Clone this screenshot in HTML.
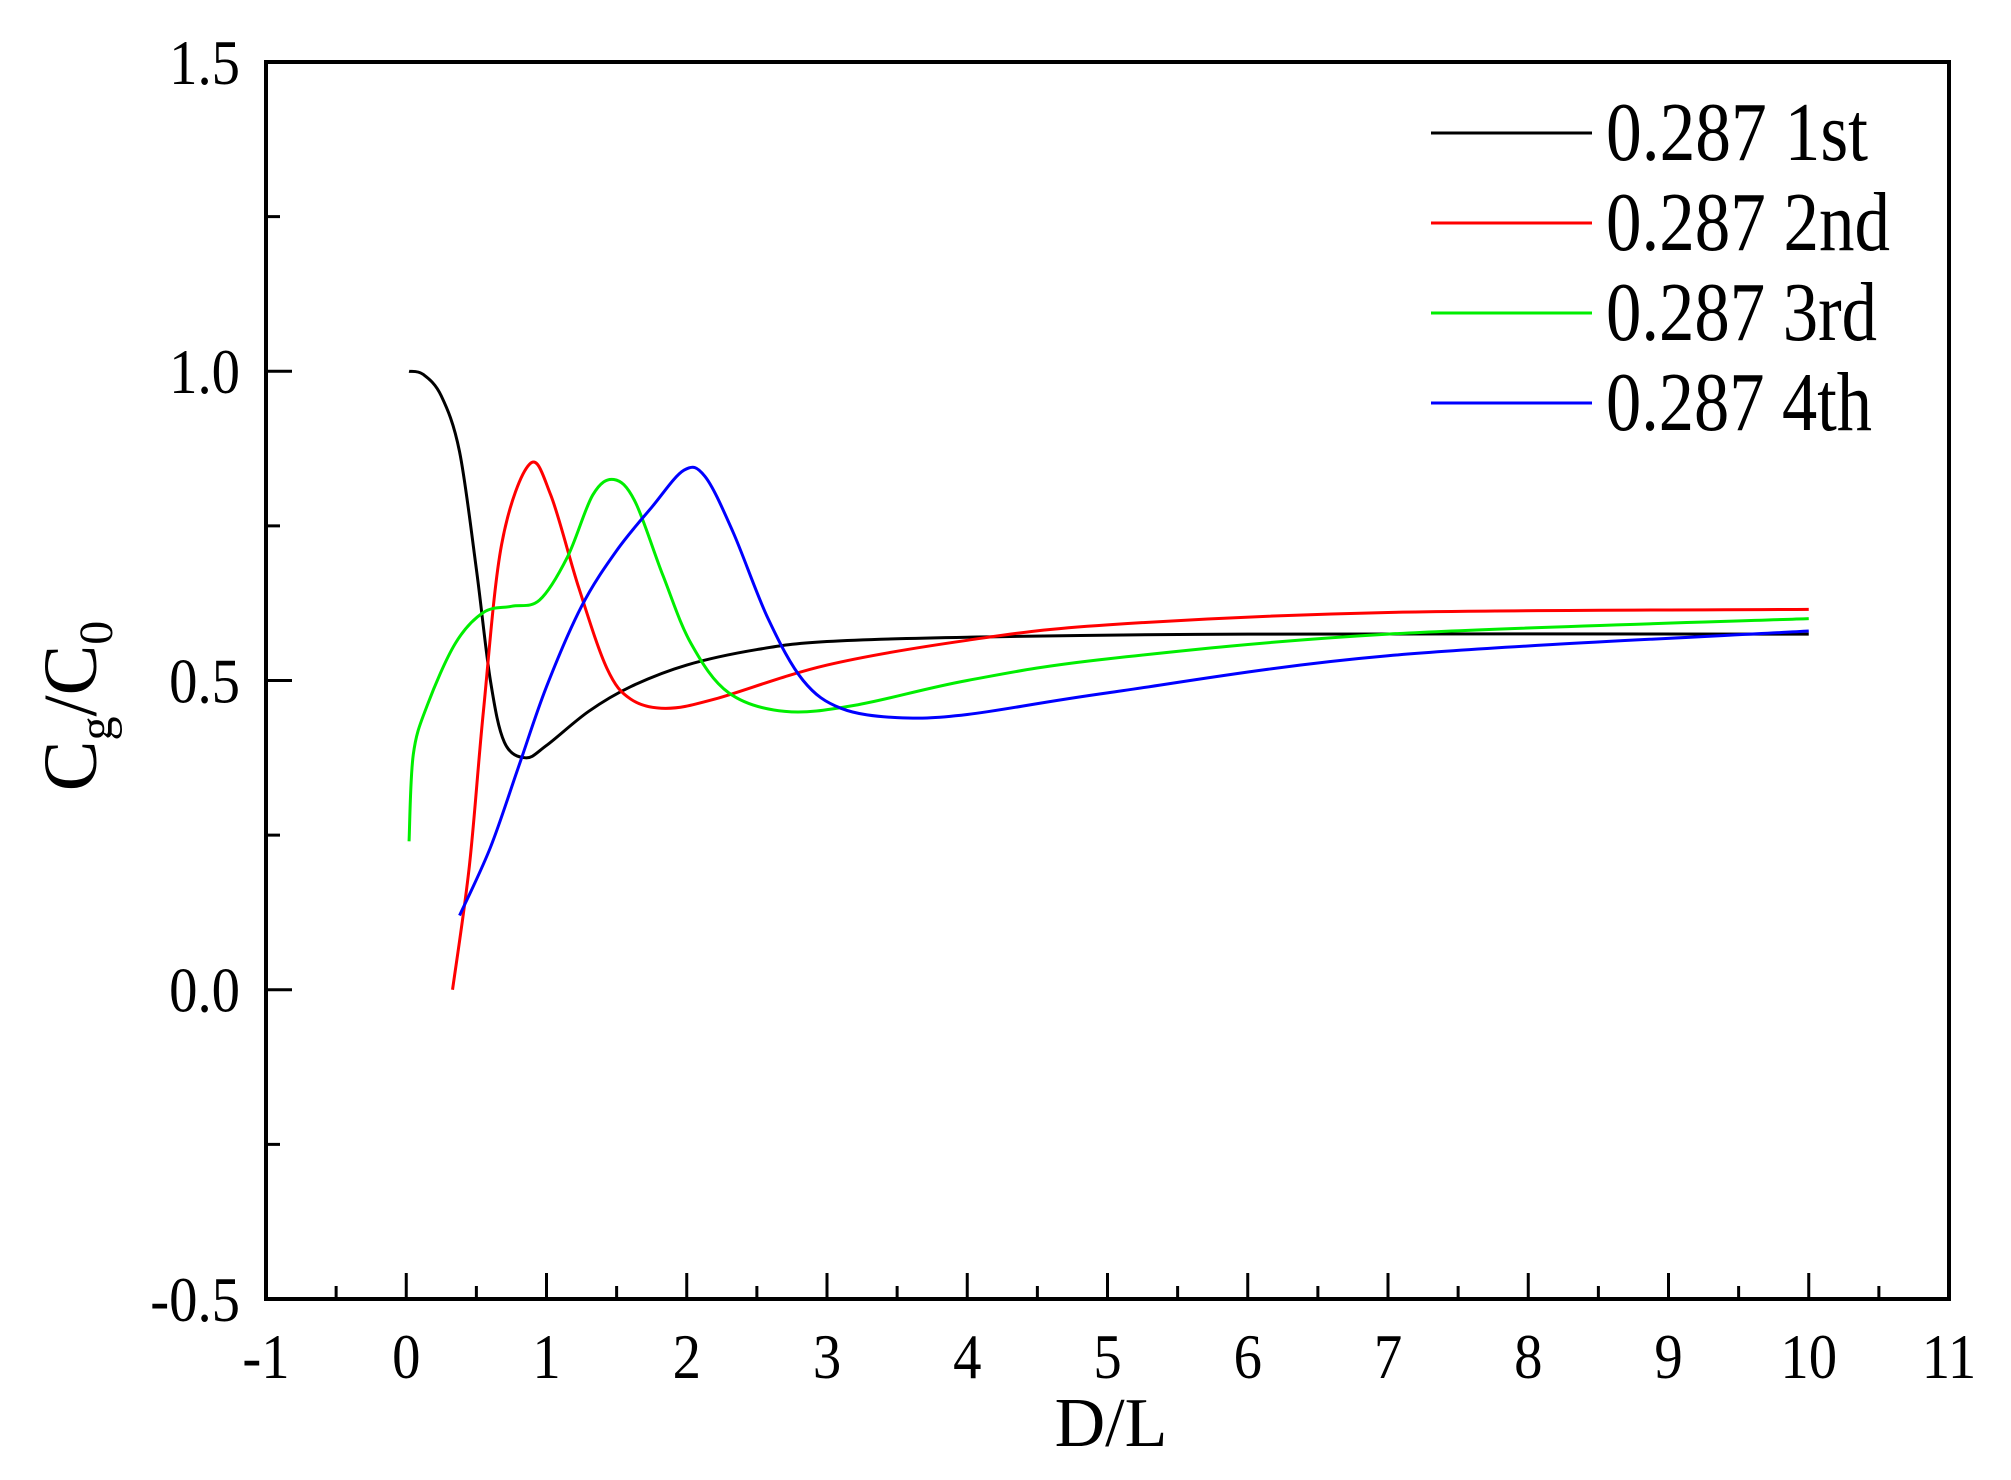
<!DOCTYPE html>
<html><head><meta charset="utf-8"><style>
html,body{margin:0;padding:0;background:#fff;}
svg{display:block;}
text{font-family:"Liberation Serif",serif;fill:#000;}
</style></head><body>
<svg id="s" width="2011" height="1480" viewBox="0 0 2011 1480" xmlns="http://www.w3.org/2000/svg">
<g id="ax"></g>
<rect x="266" y="62" width="1683" height="1237" fill="none" stroke="#000" stroke-width="4"/>
<g font-size="84">
<line x1="1431" y1="133" x2="1592" y2="133" stroke="#000" stroke-width="3"/>
<text x="1606" y="160" textLength="262" lengthAdjust="spacingAndGlyphs">0.287 1st</text>
<line x1="1431" y1="223" x2="1592" y2="223" stroke="#ff0000" stroke-width="3"/>
<text x="1606" y="250" textLength="284" lengthAdjust="spacingAndGlyphs">0.287 2nd</text>
<line x1="1431" y1="313" x2="1592" y2="313" stroke="#00ee00" stroke-width="3"/>
<text x="1606" y="340" textLength="271" lengthAdjust="spacingAndGlyphs">0.287 3rd</text>
<line x1="1431" y1="403" x2="1592" y2="403" stroke="#0000ff" stroke-width="3"/>
<text x="1606" y="430" textLength="266" lengthAdjust="spacingAndGlyphs">0.287 4th</text>
</g>
<text x="1111" y="1446" font-size="70" text-anchor="middle">D/L</text>
<text transform="translate(96,706) rotate(-90)" font-size="76" text-anchor="middle">C<tspan font-size="48" dy="16">g</tspan><tspan dy="-16">/C</tspan><tspan font-size="48" dy="16">0</tspan></text>
</svg>
<script>
var X=v=>266+(v+1)*140.25, Y=v=>62+(1.5-v)*618.5;
var ns="http://www.w3.org/2000/svg", ax=document.getElementById('ax'), s=document.getElementById('s');
function el(t,a,p){var e=document.createElementNS(ns,t);for(var k in a)e.setAttribute(k,a[k]);(p||ax).appendChild(e);return e;}
for(var i=-1;i<=11;i++){
 el('line',{x1:X(i),y1:1299,x2:X(i),y2:1273,stroke:'#000','stroke-width':3});
 if(i<11)el('line',{x1:X(i+.5),y1:1299,x2:X(i+.5),y2:1286,stroke:'#000','stroke-width':3});
 var t=el('text',{x:X(i),y:1378,'font-size':63,'text-anchor':'middle',transform:'translate('+X(i)*0.1+',0) scale(0.9,1)'});t.textContent=i;
}
for(var j=0;j<=4;j++){var v=-0.5+j*0.5;
 el('line',{x1:266,y1:Y(v),x2:292,y2:Y(v),stroke:'#000','stroke-width':3});
 if(j<4)el('line',{x1:266,y1:Y(v+.25),x2:280,y2:Y(v+.25),stroke:'#000','stroke-width':3});
 var t=el('text',{x:240/0.9,y:Y(v)+22,'font-size':63,'text-anchor':'end',transform:'scale(0.9,1)'});t.textContent=v.toFixed(1);
}
var D={
'#000':[[0.02,1.0],[0.12,0.995],[0.25,0.96],[0.38,0.87],[0.5,0.68],[0.6,0.5],[0.7,0.4],[0.85,0.375],[1,0.395],[1.3,0.45],[1.6,0.49],[2,0.525],[2.5,0.55],[3,0.563],[4,0.57],[6,0.575],[10,0.575]],
'#ff0000':[[0.33,0.0],[0.45,0.2],[0.55,0.45],[0.68,0.72],[0.88,0.85],[1.03,0.8],[1.23,0.65],[1.43,0.52],[1.6,0.47],[1.85,0.455],[2.2,0.47],[3,0.525],[4,0.565],[5,0.59],[7,0.61],[10,0.615]],
'#00ee00':[[0.02,0.24],[0.05,0.38],[0.15,0.46],[0.35,0.56],[0.55,0.61],[0.75,0.62],[0.95,0.63],[1.15,0.7],[1.33,0.8],[1.48,0.825],[1.63,0.79],[1.83,0.67],[2.03,0.56],[2.3,0.48],[2.7,0.45],[3.2,0.46],[4,0.5],[5,0.535],[7,0.575],[10,0.6]],
'#0000ff':[[0.38,0.12],[0.6,0.23],[0.8,0.36],[1,0.49],[1.25,0.62],[1.5,0.71],[1.75,0.78],[1.98,0.84],[2.13,0.83],[2.33,0.74],[2.58,0.6],[2.83,0.5],[3.1,0.455],[3.5,0.44],[4,0.445],[5,0.48],[7,0.54],[10,0.58]]};
for(var c in D){var p=D[c].map(q=>[X(q[0]),Y(q[1])]);var d='M'+p[0][0]+','+p[0][1];
 for(var i=0;i<p.length-1;i++){var p0=p[i-1]||p[i],p1=p[i],p2=p[i+1],p3=p[i+2]||p2;
  d+=' C'+(p1[0]+(p2[0]-p0[0])/6)+','+(p1[1]+(p2[1]-p0[1])/6)+' '+(p2[0]-(p3[0]-p1[0])/6)+','+(p2[1]-(p3[1]-p1[1])/6)+' '+p2[0]+','+p2[1];}
 el('path',{d:d,fill:'none',stroke:c,'stroke-width':3},s);}
</script>
</body></html>
